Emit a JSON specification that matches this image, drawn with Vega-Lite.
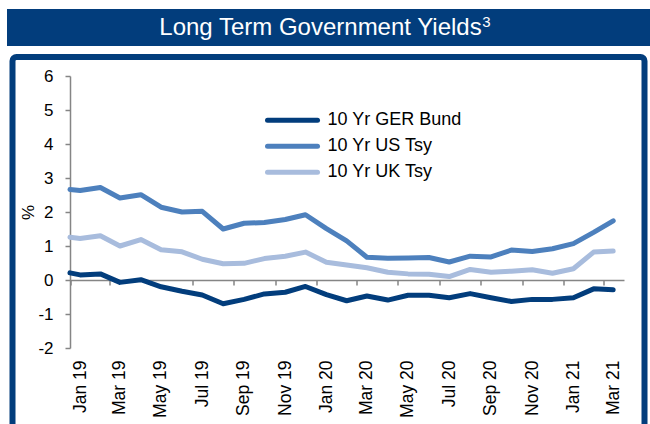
{
  "$schema": "https://vega.github.io/schema/vega-lite/v6.json",
  "background": "white",
  "padding": {"left": 7, "top": 9, "right": 0, "bottom": 0},
  "spacing": 11,
  "center": true,
  "bounds": "flush",
  "config": {"font": "Liberation Sans", "view": {"stroke": null}},
  "vconcat": [
    {
      "width": 643,
      "height": 37,
      "view": {"fill": "#023d7c", "stroke": null},
      "data": {"values": [{"title": "Long Term Government Yields", "note": "3"}]},
      "layer": [
        {
          "mark": {"type": "text", "color": "white", "fontSize": 24, "dx": -8, "font": "Liberation Sans"},
          "encoding": {"text": {"field": "title"}}
        },
        {
          "mark": {"type": "text", "color": "white", "fontSize": 15, "dx": 158, "dy": -6, "font": "Liberation Sans"},
          "encoding": {"text": {"field": "note"}}
        }
      ]
    },
    {
      "width": 632,
      "height": 372,
      "view": {"fill": "white", "stroke": "#023d7c", "strokeWidth": 6, "cornerRadius": 4},
      "data": {"values": [
        {"date": "2019-01-01", "10 Yr GER Bund": 0.21, "10 Yr US Tsy": 2.66, "10 Yr UK Tsy": 1.26},
        {"date": "2019-01-16", "10 Yr GER Bund": 0.15, "10 Yr US Tsy": 2.63, "10 Yr UK Tsy": 1.22},
        {"date": "2019-02-15", "10 Yr GER Bund": 0.18, "10 Yr US Tsy": 2.72, "10 Yr UK Tsy": 1.30},
        {"date": "2019-03-16", "10 Yr GER Bund": -0.07, "10 Yr US Tsy": 2.41, "10 Yr UK Tsy": 1.00},
        {"date": "2019-04-16", "10 Yr GER Bund": 0.01, "10 Yr US Tsy": 2.51, "10 Yr UK Tsy": 1.19},
        {"date": "2019-05-16", "10 Yr GER Bund": -0.20, "10 Yr US Tsy": 2.14, "10 Yr UK Tsy": 0.89},
        {"date": "2019-06-16", "10 Yr GER Bund": -0.33, "10 Yr US Tsy": 2.00, "10 Yr UK Tsy": 0.83},
        {"date": "2019-07-16", "10 Yr GER Bund": -0.44, "10 Yr US Tsy": 2.02, "10 Yr UK Tsy": 0.61},
        {"date": "2019-08-16", "10 Yr GER Bund": -0.70, "10 Yr US Tsy": 1.50, "10 Yr UK Tsy": 0.48},
        {"date": "2019-09-16", "10 Yr GER Bund": -0.57, "10 Yr US Tsy": 1.67, "10 Yr UK Tsy": 0.49},
        {"date": "2019-10-16", "10 Yr GER Bund": -0.41, "10 Yr US Tsy": 1.69, "10 Yr UK Tsy": 0.63},
        {"date": "2019-11-16", "10 Yr GER Bund": -0.36, "10 Yr US Tsy": 1.78, "10 Yr UK Tsy": 0.70},
        {"date": "2019-12-16", "10 Yr GER Bund": -0.19, "10 Yr US Tsy": 1.92, "10 Yr UK Tsy": 0.82},
        {"date": "2020-01-16", "10 Yr GER Bund": -0.43, "10 Yr US Tsy": 1.51, "10 Yr UK Tsy": 0.52},
        {"date": "2020-02-15", "10 Yr GER Bund": -0.61, "10 Yr US Tsy": 1.15, "10 Yr UK Tsy": 0.44},
        {"date": "2020-03-16", "10 Yr GER Bund": -0.47, "10 Yr US Tsy": 0.67, "10 Yr UK Tsy": 0.36},
        {"date": "2020-04-16", "10 Yr GER Bund": -0.59, "10 Yr US Tsy": 0.64, "10 Yr UK Tsy": 0.23},
        {"date": "2020-05-16", "10 Yr GER Bund": -0.45, "10 Yr US Tsy": 0.65, "10 Yr UK Tsy": 0.18},
        {"date": "2020-06-16", "10 Yr GER Bund": -0.45, "10 Yr US Tsy": 0.66, "10 Yr UK Tsy": 0.17},
        {"date": "2020-07-16", "10 Yr GER Bund": -0.52, "10 Yr US Tsy": 0.53, "10 Yr UK Tsy": 0.10},
        {"date": "2020-08-16", "10 Yr GER Bund": -0.40, "10 Yr US Tsy": 0.70, "10 Yr UK Tsy": 0.31},
        {"date": "2020-09-16", "10 Yr GER Bund": -0.52, "10 Yr US Tsy": 0.68, "10 Yr UK Tsy": 0.23},
        {"date": "2020-10-16", "10 Yr GER Bund": -0.63, "10 Yr US Tsy": 0.88, "10 Yr UK Tsy": 0.26},
        {"date": "2020-11-16", "10 Yr GER Bund": -0.57, "10 Yr US Tsy": 0.84, "10 Yr UK Tsy": 0.30},
        {"date": "2020-12-16", "10 Yr GER Bund": -0.57, "10 Yr US Tsy": 0.92, "10 Yr UK Tsy": 0.20},
        {"date": "2021-01-16", "10 Yr GER Bund": -0.52, "10 Yr US Tsy": 1.07, "10 Yr UK Tsy": 0.33},
        {"date": "2021-02-15", "10 Yr GER Bund": -0.26, "10 Yr US Tsy": 1.40, "10 Yr UK Tsy": 0.82},
        {"date": "2021-03-16", "10 Yr GER Bund": -0.29, "10 Yr US Tsy": 1.74, "10 Yr UK Tsy": 0.85}
      ]},
      "transform": [{"fold": ["10 Yr GER Bund", "10 Yr US Tsy", "10 Yr UK Tsy"], "as": ["series", "yield"]}],
      "mark": {"type": "line", "strokeWidth": 5, "strokeCap": "round", "strokeJoin": "round"},
      "encoding": {
        "x": {
          "field": "date",
          "type": "temporal",
          "scale": {
            "type": "utc",
            "domain": [{"year": 2019, "month": 1, "date": 1, "utc": true}, {"year": 2021, "month": 4, "date": 1, "utc": true}],
            "range": [57.5, 611.5],
            "nice": false
          },
          "axis": {
            "title": null,
            "format": "%b %y",
            "tickCount": {"interval": "month", "step": 2},
            "labelAngle": 270,
            "labelOffset": 10,
            "offset": -149,
            "tickSize": 5,
            "labelPadding": 75,
            "domainColor": "#858585",
            "domainWidth": 1.5,
            "tickColor": "#858585",
            "tickWidth": 1.5,
            "labelFontSize": 17.5,
            "labelColor": "black",
            "grid": false,
            "labelOverlap": false,
            "labelFlush": false,
            "labelBound": false
          }
        },
        "y": {
          "field": "yield",
          "type": "quantitative",
          "scale": {"domain": [-2, 6], "range": [291, 19], "nice": false, "zero": false},
          "axis": {
            "title": "%",
            "values": [-2, -1, 0, 1, 2, 3, 4, 5, 6],
            "labelExpr": "datum.value + ''",
            "offset": -57.5,
            "tickSize": 5,
            "labelPadding": 12,
            "domainColor": "#858585",
            "domainWidth": 1.5,
            "tickColor": "#858585",
            "tickWidth": 1.5,
            "labelFontSize": 17,
            "labelColor": "black",
            "titleFontSize": 17,
            "titleFontWeight": "normal",
            "titleColor": "black",
            "titlePadding": 0,
            "grid": false
          }
        },
        "color": {
          "field": "series",
          "type": "nominal",
          "scale": {"domain": ["10 Yr GER Bund", "10 Yr US Tsy", "10 Yr UK Tsy"], "range": ["#023d7c", "#4d80bd", "#a8bcdd"]},
          "legend": {
            "title": null,
            "orient": "none",
            "legendX": 258,
            "legendY": 98.5,
            "symbolType": "stroke",
            "symbolSize": 2500,
            "symbolStrokeWidth": 5,
            "labelFontSize": 18,
            "labelOffset": 7.5,
            "clipHeight": 25.5,
            "rowPadding": 0,
            "padding": 0,
            "labelColor": "black",
            "labelLimit": 300,
            "encode": {"symbols": {"update": {"strokeCap": {"value": "round"}}}}
          }
        }
      }
    }
  ]
}
